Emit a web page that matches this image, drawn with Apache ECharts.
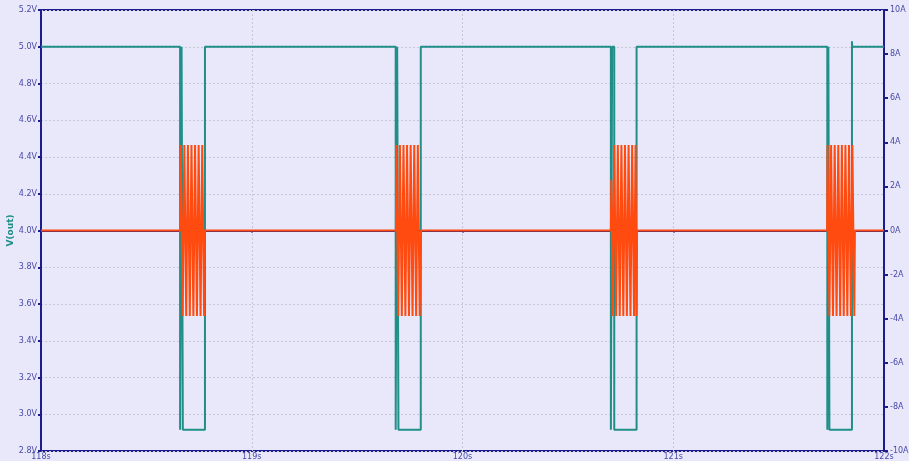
<!DOCTYPE html>
<html>
<head>
<meta charset="utf-8">
<style>
  html, body { margin: 0; padding: 0; background: #e8e8fa; }
  #chart { width: 909px; height: 461px; }
</style>
<script src="https://cdn.jsdelivr.net/npm/echarts@6/dist/echarts.min.js"></script>
</head>
<body>
<div id="chart"></div>
<script>
// V(out): tempos (s) e tensões (V)
var voutTimes = [
    118.000, 118.660, 118.660, 118.667, 118.667, 118.673, 118.673, 118.778, 118.778,
    119.683, 119.683, 119.690, 119.690, 119.696, 119.696, 119.802, 119.802,
    120.704, 120.704, 120.710, 120.710, 120.720, 120.720, 120.826, 120.826,
    121.731, 121.731, 121.736, 121.736, 121.741, 121.741, 121.848, 121.848, 121.849, 122.000
];
var voutValues = [
    5.0, 5.0, 2.915, 2.915, 5.0, 5.0, 2.915, 2.915, 5.0,
    5.0, 2.915, 2.915, 5.0, 5.0, 2.915, 2.915, 5.0,
    5.0, 2.915, 2.915, 5.0, 5.0, 2.915, 2.915, 5.0,
    5.0, 2.915, 2.915, 5.0, 5.0, 2.915, 2.915, 5.03, 5.0, 5.0
];

// Corrente (A): rajadas de oscilação
var curTimes = [
    118.000,
    118.661, 118.663, 118.672, 118.680, 118.689, 118.697, 118.706, 118.714, 118.723, 118.731, 118.740, 118.748, 118.757, 118.765, 118.774, 118.777,
    119.684, 119.686, 119.695, 119.703, 119.712, 119.720, 119.729, 119.737, 119.746, 119.754, 119.763, 119.771, 119.780, 119.788, 119.797, 119.803,
    120.704, 120.706, 120.712, 120.720, 120.729, 120.737, 120.746, 120.754, 120.763, 120.771, 120.780, 120.788, 120.797, 120.805, 120.814, 120.821, 120.826, 120.828,
    121.730, 121.732, 121.741, 121.749, 121.758, 121.766, 121.775, 121.783, 121.792, 121.800, 121.809, 121.817, 121.826, 121.834, 121.843, 121.850, 121.859, 121.862,
    122.000
];
var curValues = [
    0,
    0, 3.88, -3.88, 3.88, -3.88, 3.88, -3.88, 3.88, -3.88, 3.88, -3.88, 3.88, -3.88, 3.88, -3.88, 0,
    0, 3.88, -3.88, 3.88, -3.88, 3.88, -3.88, 3.88, -3.88, 3.88, -3.88, 3.88, -3.88, 3.88, -3.88, 0,
    0, 2.3, -3.88, 3.88, -3.88, 3.88, -3.88, 3.88, -3.88, 3.88, -3.88, 3.88, -3.88, 3.88, -3.88, 3.88, -3.88, 0,
    0, 3.88, -3.88, 3.88, -3.88, 3.88, -3.88, 3.88, -3.88, 3.88, -3.88, 3.88, -3.88, 3.88, -3.88, 3.88, -3.88, 0,
    0
];

function juntar(ts, vs) {
    return ts.map(function (t, i) { return [t, vs[i]]; });
}

var corEixo = '#1c1c8c';
var corTexto = '#4848a8';
var corGrade = '#c6c6d6';

var chart = echarts.init(document.getElementById('chart'), null, { renderer: 'canvas' });

var option = {
    animation: false,
    backgroundColor: '#e8e8fa',
    grid: {
        left: 41,
        right: 25,
        top: 10,
        bottom: 10,
        containLabel: false,
        outerBoundsMode: 'none',
        show: true,
        borderColor: corEixo,
        borderWidth: 2,
        backgroundColor: 'transparent'
    },
    xAxis: {
        type: 'value',
        min: 118,
        max: 122,
        interval: 1,
        axisLine: { lineStyle: { color: corEixo, width: 2 } },
        axisTick: { show: true, length: 2, lineStyle: { color: corEixo, width: 2 } },
        axisLabel: {
            color: corTexto,
            fontSize: 8,
            margin: 2,
            fontFamily: 'DejaVu Sans',
            formatter: function (v) { return v + 's'; }
        },
        splitLine: { show: true, lineStyle: { color: corGrade, type: [2, 2], width: 1 } }
    },
    yAxis: [
        {
            type: 'value',
            min: 2.8,
            max: 5.2,
            interval: 0.2,
            name: 'V(out)',
            nameLocation: 'middle',
            nameGap: 26,
            nameMoveOverlap: false,
            nameTextStyle: { color: '#1f8f88', fontSize: 9, fontWeight: 'bold', fontFamily: 'DejaVu Sans' },
            axisLine: { show: true, lineStyle: { color: corEixo, width: 2 } },
            axisTick: { show: true, length: 3, lineStyle: { color: corEixo, width: 2 } },
            axisLabel: {
                color: corTexto,
                fontSize: 8,
                margin: 4,
                fontFamily: 'DejaVu Sans',
                formatter: function (v) { return v.toFixed(1) + 'V'; }
            },
            splitLine: { show: true, lineStyle: { color: corGrade, type: [2, 2], width: 1 } }
        },
        {
            type: 'value',
            min: -10,
            max: 10,
            interval: 2,
            position: 'right',
            axisLine: { show: true, lineStyle: { color: corEixo, width: 2 } },
            axisTick: { show: true, length: 4, lineStyle: { color: corEixo, width: 2 } },
            axisLabel: {
                color: corTexto,
                fontSize: 8,
                margin: 6,
                fontFamily: 'DejaVu Sans',
                formatter: function (v) { return v + 'A'; }
            },
            splitLine: { show: false }
        }
    ],
    series: [
        {
            name: 'V(out)',
            type: 'line',
            yAxisIndex: 0,
            data: juntar(voutTimes, voutValues),
            showSymbol: false,
            lineStyle: { color: '#1f8f88', width: 2 },
            z: 3
        },
        {
            name: 'I',
            type: 'line',
            yAxisIndex: 1,
            data: juntar(curTimes, curValues),
            showSymbol: false,
            lineStyle: { color: '#ff4a10', width: 2 },
            z: 4
        }
    ]
};

chart.setOption(option);
</script>
</body>
</html>
